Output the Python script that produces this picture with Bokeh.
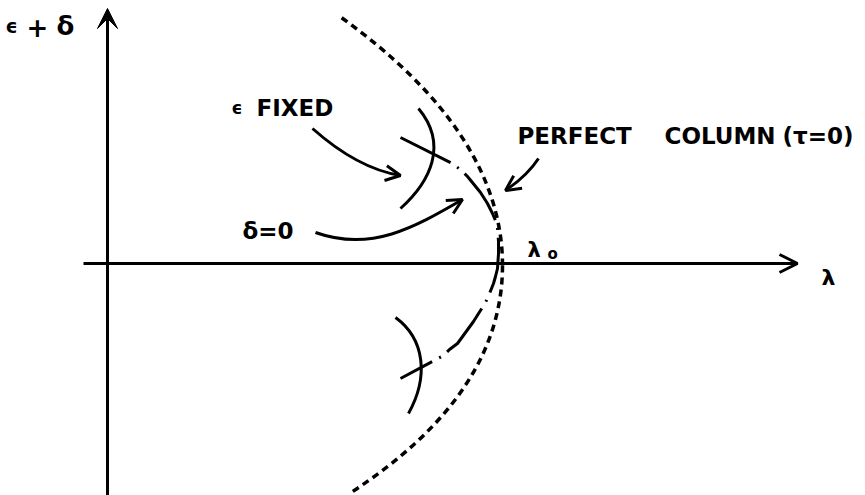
from bokeh.plotting import figure
from bokeh.models import Range1d, Arrow, OpenHead, VeeHead, Label
from bokeh.embed import file_html
from bokeh.resources import INLINE

# Schematic units: lambda (horizontal) and eps+delta (vertical), origin at the axes crossing.
LAMBDA0 = 395          # buckling load of the perfect column, on the lambda axis

# Perfect column curve (tau = 0), dotted: two branches from lambda0 (start, control, end)
perfect_start = [LAMBDA0, -2]
perfect_up_ctrl = [LAMBDA0, 131]
perfect_up_end = [231, 248]
perfect_lo_ctrl = [LAMBDA0, -131]
perfect_lo_end = [242, -230]

# delta = 0 curve (imperfect column), dash-dot
delta0_lam = [293, 345, 354, 360, 373, 380, 385, 388, 390, 391, 391, 390, 388, 386,
              382, 378, 366, 358, 350, 342, 336, 293]
delta0_eps = [126, 100, 93, 87, 71, 60, 50, 43, 35, 22, 10, -5, -13, -20,
              -30, -39, -58, -69, -80, -86, -92, -115]

# eps fixed curves (solid arcs): cubic start, c0, c1, end
arc_up = [(311, 155), (341, 119), (323, 82), (293, 55)]
arc_lo = [(288, -54), (318, -76), (321, -114), (301, -150)]

# pointer arrows
arrow_fixed = [(205, 135), (250, 95), (293, 88)]                 # quadratic
arrow_delta = [(208, 31), (264, 11), (307.5, 36.5), (355, 64)]   # cubic
arrow_perfect = [(431, 105), (420, 88), (398, 73)]               # quadratic

# axes extents
lam_axis = [-24, 690]
eps_axis = [-232, 255]

FONT = "DejaVu Sans"
LW = 3

p = figure(width=865, height=495, x_range=Range1d(-107, 758), y_range=Range1d(-232, 263),
           output_backend="svg", toolbar_location=None, x_axis_type=None, y_axis_type=None,
           min_border=0, outline_line_color=None, background_fill_color="white")
p.xgrid.visible = False
p.ygrid.visible = False

# axes
p.add_layout(Arrow(end=OpenHead(size=18, line_width=LW), x_start=lam_axis[0], y_start=0,
                   x_end=lam_axis[1], y_end=0, line_width=LW, line_color="black"))
p.add_layout(Arrow(end=VeeHead(size=20, fill_color="black", line_color="black", line_width=1),
                   x_start=0, y_start=eps_axis[0], x_end=0, y_end=eps_axis[1],
                   line_width=LW, line_color="black"))

# perfect column (dotted)
for ctrl, end in [(perfect_up_ctrl, perfect_up_end), (perfect_lo_ctrl, perfect_lo_end)]:
    p.quadratic(x0=perfect_start[0], y0=perfect_start[1], x1=end[0], y1=end[1],
                cx=ctrl[0], cy=ctrl[1], line_width=3.5, line_color="black", line_dash="7 5")

# delta = 0 (dash-dot)
p.line(delta0_lam, delta0_eps, line_width=LW, line_color="black", line_dash="56 8 2 8",
       line_join="round")

# eps fixed arcs
for a in (arc_up, arc_lo):
    p.bezier(x0=a[0][0], y0=a[0][1], cx0=a[1][0], cy0=a[1][1], cx1=a[2][0], cy1=a[2][1],
             x1=a[3][0], y1=a[3][1], line_width=LW, line_color="black")

# pointer arrows
def head(ctrl, end):
    p.add_layout(Arrow(end=OpenHead(size=15, line_width=LW, line_color="black"),
                       x_start=ctrl[0], y_start=ctrl[1], x_end=end[0], y_end=end[1],
                       line_alpha=0))

for a in (arrow_fixed, arrow_perfect):
    p.quadratic(x0=a[0][0], y0=a[0][1], cx=a[1][0], cy=a[1][1], x1=a[2][0], y1=a[2][1],
                line_width=LW, line_color="black")
    head(a[1], a[2])
a = arrow_delta
p.bezier(x0=a[0][0], y0=a[0][1], cx0=a[1][0], cy0=a[1][1], cx1=a[2][0], cy1=a[2][1],
         x1=a[3][0], y1=a[3][1], line_width=LW, line_color="black")
head(a[2], a[3])

def lab(x, y, t, size, baseline="alphabetic"):
    p.add_layout(Label(x=x, y=y, text=t, text_font=FONT, text_font_size=size,
                       text_font_style="bold", text_color="black", text_baseline=baseline,
                       text_align="left"))

# vertical axis title  eps + delta
lab(-102, 238, "ϵ", "19px")
lab(-81, 237, "+", "26px")
lab(-51, 238, "δ", "26px")
# annotations
lab(124, 156, "ϵ", "17px")
lab(149, 156, "FIXED", "23px")
lab(135, 33, "δ=0", "23px")
lab(410, 128, "PERFECT", "23px")
lab(557, 128, "COLUMN", "23px")
lab(675, 128, "(τ=0)", "23px")
lab(420, 14, "λ", "21px")
lab(440, 10, "o", "15px")
lab(714, -14, "λ", "22px")

open("out.html", "w").write(file_html(p, INLINE))
